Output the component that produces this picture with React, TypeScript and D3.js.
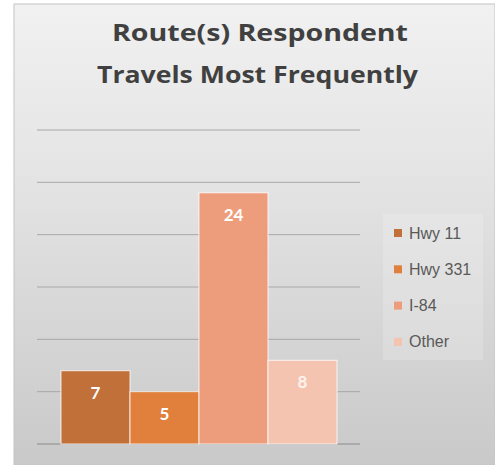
import React from "react";
import * as d3 from "d3";

const series = ["Hwy 11", "Hwy 331", "I-84", "Other"];
const values = [7, 5, 24, 8];
const colors = ["#c2703a", "#e0803c", "#ee9d7c", "#f4c4b1"];
const labelColors = ["#ffffff", "#ffffff", "#ffffff", "#fdf3ee"];
const yTicks = [0, 5, 10, 15, 20, 25, 30];
const titleLines = ["Route(s) Respondent", "Travels Most Frequently"];
const titleWidths = [296, 321];

export default function App() {
  const W = 495, H = 465;
  const y = d3.scaleLinear().domain([0, 30]).range([444, 130]);
  const x = d3.scaleBand<string>().domain(series).range([61, 337]).paddingInner(0);
  const plotL = 37, plotR = 360;
  return (
    <svg width={W} height={H} style={{ position: "absolute", left: 0, top: 0 }} fontFamily="'Open Sans', Lato, sans-serif">
      <defs>
        <linearGradient id="bg" x1="0" y1="0" x2="0" y2="1">
          <stop offset="0" stopColor="#f1f1f1" />
          <stop offset="0.35" stopColor="#e5e5e5" />
          <stop offset="1" stopColor="#c9c9c9" />
        </linearGradient>
      </defs>
      <rect x={0} y={0} width={W} height={H} fill="#ffffff" />
      <rect x={14} y={4} width={W - 14} height={H - 4} fill="url(#bg)" stroke="#c4c4c4" strokeWidth={1} />
      {titleLines.map((t, i) => (
        <text key={t} x={[260, 257.5][i]} y={41 + i * 42} textAnchor="middle" fontSize={24} fontWeight="bold" fill="#404040"
          textLength={titleWidths[i]} lengthAdjust="spacingAndGlyphs">{t}</text>
      ))}
      {yTicks.map((t) => (
        <line key={t} x1={plotL} x2={plotR} y1={y(t)} y2={y(t)} stroke={t === 0 ? "#8a8a8a" : "#a8a8a8"} strokeWidth={1} />
      ))}
      {series.map((s, i) => (
        <g key={s}>
          <rect x={x(s)!} y={y(values[i])} width={x.bandwidth()} height={y(0) - y(values[i])} fill={colors[i]} stroke="#ffffff" strokeWidth={1} strokeOpacity={0.8} />
          <text x={x(s)! + x.bandwidth() / 2} y={y(values[i]) + 28} textAnchor="middle" fontSize={17} fontWeight="bold" fontFamily="Lato, sans-serif" fill={labelColors[i]}>{values[i]}</text>
        </g>
      ))}
      <rect x={383} y={214} width={100} height={146} fill="#ffffff" fillOpacity={0.18} />
      {series.map((s, i) => (
        <g key={s} transform={`translate(394, ${233 + i * 36.3})`}>
          <rect x={0} y={-4} width={8} height={8} fill={colors[i]} />
          <text x={15} y={5.5} fontSize={16} fontFamily="'Liberation Sans', Arial, sans-serif" fill="#595959">{s}</text>
        </g>
      ))}
    </svg>
  );
}
